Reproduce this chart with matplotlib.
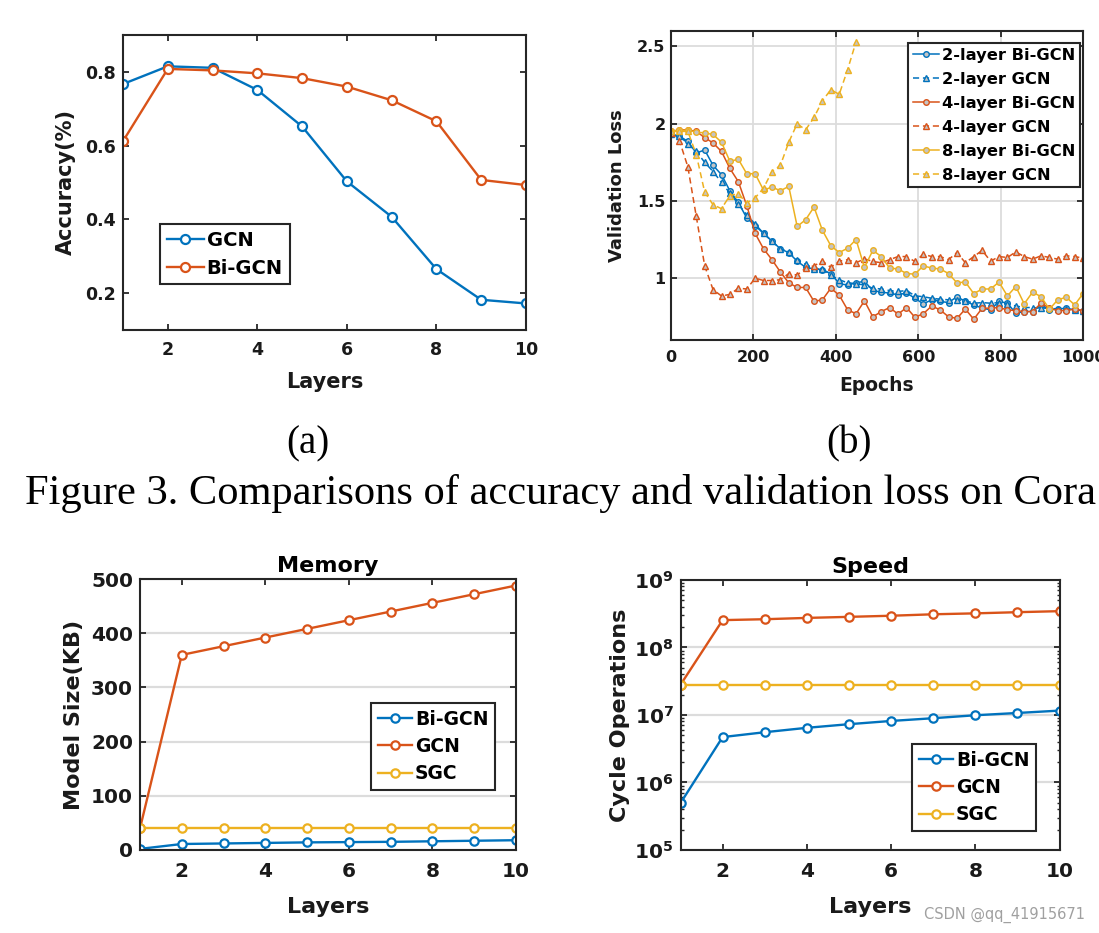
import matplotlib
matplotlib.use('Agg')
import matplotlib.pyplot as plt
import numpy as np
from matplotlib.ticker import FixedLocator, FixedFormatter, LogLocator, NullFormatter

# ---------------- data ----------------
layers = [1, 2, 3, 4, 5, 6, 7, 8, 9, 10]

acc_gcn = [0.767, 0.815, 0.811, 0.751, 0.652, 0.503, 0.407, 0.265, 0.182, 0.172]
acc_bigcn = [0.612, 0.808, 0.804, 0.796, 0.783, 0.760, 0.723, 0.666, 0.507, 0.493]

epochs = np.linspace(0, 1000, 50)
loss_2_bigcn = [1.93, 1.92, 1.885, 1.81, 1.83, 1.73, 1.67, 1.565, 1.49, 1.39,
                1.34, 1.29, 1.24, 1.19, 1.165, 1.11, 1.07, 1.06, 1.055, 1.03,
                0.965, 0.955, 0.97, 0.98, 0.92, 0.91, 0.903, 0.892, 0.905, 0.87,
                0.834, 0.86, 0.85, 0.842, 0.88, 0.85, 0.827, 0.806, 0.795, 0.85,
                0.838, 0.773, 0.784, 0.784, 0.827, 0.795, 0.80, 0.806, 0.795, 0.79]
loss_2_gcn = [1.93, 1.92, 1.87, 1.82, 1.75, 1.69, 1.62, 1.55, 1.48, 1.41,
              1.35, 1.29, 1.24, 1.19, 1.17, 1.12, 1.09, 1.06, 1.06, 1.02,
              0.99, 0.97, 0.965, 0.955, 0.935, 0.93, 0.92, 0.914, 0.92, 0.886,
              0.88, 0.87, 0.864, 0.86, 0.86, 0.855, 0.838, 0.842, 0.838, 0.842,
              0.834, 0.82, 0.81, 0.81, 0.806, 0.806, 0.80, 0.80, 0.795, 0.79]
loss_4_bigcn = [1.95, 1.96, 1.96, 1.95, 1.91, 1.875, 1.82, 1.71, 1.625, 1.47,
                1.29, 1.19, 1.12, 1.04, 0.97, 0.94, 0.94, 0.85, 0.86, 0.935,
                0.89, 0.795, 0.77, 0.853, 0.75, 0.784, 0.81, 0.767, 0.81, 0.747,
                0.77, 0.82, 0.795, 0.75, 0.74, 0.80, 0.734, 0.806, 0.806, 0.81,
                0.795, 0.79, 0.784, 0.784, 0.838, 0.806, 0.79, 0.79, 0.80, 0.79]
loss_4_gcn = [1.94, 1.89, 1.72, 1.40, 1.08, 0.925, 0.885, 0.895, 0.935, 0.93,
              1.0, 0.985, 0.985, 0.99, 1.03, 1.02, 1.065, 1.08, 1.11, 1.07,
              1.11, 1.12, 1.10, 1.125, 1.108, 1.10, 1.12, 1.14, 1.14, 1.108,
              1.155, 1.14, 1.14, 1.12, 1.166, 1.10, 1.14, 1.18, 1.11, 1.14,
              1.134, 1.17, 1.14, 1.123, 1.145, 1.134, 1.123, 1.145, 1.14, 1.13]
loss_8_bigcn = [1.95, 1.957, 1.957, 1.946, 1.94, 1.93, 1.88, 1.756, 1.77, 1.676,
                1.676, 1.57, 1.59, 1.566, 1.594, 1.335, 1.378, 1.46, 1.31, 1.21,
                1.166, 1.194, 1.25, 1.07, 1.18, 1.14, 1.065, 1.06, 1.03, 1.026,
                1.08, 1.065, 1.06, 1.03, 0.97, 0.975, 0.90, 0.93, 0.93, 0.975,
                0.885, 0.946, 0.834, 0.91, 0.88, 0.80, 0.86, 0.877, 0.827, 0.90]
loss_8_gcn = [1.95, 1.95, 1.95, 1.80, 1.557, 1.475, 1.45, 1.535, 1.546, 1.486,
              1.52, 1.583, 1.69, 1.73, 1.88, 2.0, 1.96, 2.04, 2.148, 2.22,
              2.19, 2.35, 2.53]

mem_bigcn = [2, 11, 12, 13, 14, 14.5, 15, 16, 17, 18]
mem_gcn = [40, 360, 376, 392, 408, 424, 440, 456, 472, 488]
mem_sgc = [40, 40, 40, 40, 40, 40, 40, 40, 40, 40]

speed_bigcn = [4.95e5, 4.7e6, 5.55e6, 6.45e6, 7.3e6, 8.15e6, 8.95e6, 9.9e6, 1.07e7, 1.16e7]
speed_gcn = [2.8e7, 2.54e8, 2.62e8, 2.74e8, 2.84e8, 2.95e8, 3.1e8, 3.2e8, 3.33e8, 3.45e8]
speed_sgc = [2.75e7] * 10

layer_ticks = [2, 4, 6, 8, 10]
acc_ticks = [0.2, 0.4, 0.6, 0.8]
loss_xticks = [0, 200, 400, 600, 800, 1000]
loss_yticks = [1, 1.5, 2, 2.5]
loss_ytick_labels = ['1', '1.5', '2', '2.5']
mem_ticks = [0, 100, 200, 300, 400, 500]
speed_ticks = [1e5, 1e6, 1e7, 1e8, 1e9]
speed_tick_labels = [r'$\mathbf{10^{5}}$', r'$\mathbf{10^{6}}$', r'$\mathbf{10^{7}}$',
                     r'$\mathbf{10^{8}}$', r'$\mathbf{10^{9}}$']

# ---------------- style ----------------
BLUE = '#0072BD'
ORANGE = '#D95319'
YELLOW = '#EDB120'
EDGE = '#262626'
GRID = '#dcdcdc'

plt.rcParams.update({
    'font.family': 'DejaVu Sans',
    'font.weight': 'bold',
    'axes.labelweight': 'bold',
    'axes.titleweight': 'bold',
    'axes.linewidth': 1.5,
    'axes.edgecolor': EDGE,
    'xtick.direction': 'in',
    'ytick.direction': 'in',
    'xtick.top': True,
    'ytick.right': True,
    'xtick.major.width': 1.3,
    'ytick.major.width': 1.3,
    'xtick.major.size': 4,
    'ytick.major.size': 4,
    'xtick.minor.size': 2.2,
    'ytick.minor.size': 2.2,
    'xtick.color': EDGE,
    'ytick.color': EDGE,
    'xtick.labelcolor': '#1a1a1a',
    'ytick.labelcolor': '#1a1a1a',
    'axes.labelcolor': '#1a1a1a',
})

fig = plt.figure(figsize=(10.99, 9.33), dpi=100)


def style_legend(leg):
    fr = leg.get_frame()
    fr.set_edgecolor(EDGE)
    fr.set_linewidth(1.5)


# ---------------- (a) accuracy ----------------
ax_a = fig.add_axes([0.1119, 0.6463, 0.3667, 0.3162])
ax_a.plot(layers, acc_gcn, '-o', color=BLUE, lw=1.7, ms=6.5, mfc='white', mew=1.6, label='GCN')
ax_a.plot(layers, acc_bigcn, '-o', color=ORANGE, lw=1.7, ms=6.5, mfc='white', mew=1.6, label='Bi-GCN')
ax_a.set_xlim(1, 10)
ax_a.set_ylim(0.1, 0.9)
ax_a.set_xticks(layer_ticks)
ax_a.set_yticks(acc_ticks)
ax_a.set_yticklabels([f'{v:.1f}' for v in acc_ticks])
ax_a.tick_params(axis='x', labelsize=12.5, pad=8)
ax_a.tick_params(axis='y', labelsize=12.5, pad=5)
ax_a.set_xlabel('Layers', fontsize=15, labelpad=9)
ax_a.set_ylabel('Accuracy(%)', fontsize=15, labelpad=7)
leg = ax_a.legend(loc='upper left', bbox_to_anchor=(0.1456, 0.7599), bbox_transform=fig.transFigure,
                  fontsize=14, fancybox=False, framealpha=1, borderaxespad=0, borderpad=0.35,
                  labelspacing=0.45, handlelength=1.9, handletextpad=0.15)
style_legend(leg)

# ---------------- (b) validation loss ----------------
ax_b = fig.add_axes([0.6106, 0.6356, 0.3749, 0.3312])
ax_b.set_axisbelow(True)
ax_b.grid(True, color=GRID, lw=1.3)
MFC = '#c4c4c4'
dash = (0, (4, 2.5))
ax_b.plot(epochs, loss_2_bigcn, '-', marker='o', color=BLUE, lw=1.1, ms=4, mfc=MFC, mew=1, label='2-layer Bi-GCN')
ax_b.plot(epochs, loss_2_gcn, linestyle=dash, marker='^', color=BLUE, lw=1.1, ms=4.5, mfc=MFC, mew=1, label='2-layer GCN')
ax_b.plot(epochs, loss_4_bigcn, '-', marker='o', color=ORANGE, lw=1.1, ms=4, mfc=MFC, mew=1, label='4-layer Bi-GCN')
ax_b.plot(epochs, loss_4_gcn, linestyle=dash, marker='^', color=ORANGE, lw=1.1, ms=4.5, mfc=MFC, mew=1, label='4-layer GCN')
ax_b.plot(epochs, loss_8_bigcn, '-', marker='o', color=YELLOW, lw=1.1, ms=4, mfc=MFC, mew=1, label='8-layer Bi-GCN')
ax_b.plot(epochs[:len(loss_8_gcn)], loss_8_gcn, linestyle=dash, marker='^', color=YELLOW, lw=1.1, ms=4.5, mfc=MFC, mew=1, label='8-layer GCN')
ax_b.set_xlim(0, 1000)
ax_b.set_ylim(0.6, 2.6)
ax_b.set_xticks(loss_xticks)
ax_b.set_yticks(loss_yticks)
ax_b.set_yticklabels(loss_ytick_labels)
ax_b.tick_params(axis='x', labelsize=11.5, pad=7)
ax_b.tick_params(axis='y', labelsize=11.5, pad=4)
ax_b.set_xlabel('Epochs', fontsize=13.5, labelpad=8)
ax_b.set_ylabel('Validation Loss', fontsize=13, labelpad=8)
leg = ax_b.legend(loc='upper right', bbox_to_anchor=(0.9827, 0.9539), bbox_transform=fig.transFigure,
                  fontsize=11.7, fancybox=False, framealpha=1, borderaxespad=0, borderpad=0.3,
                  labelspacing=0.55, handlelength=1.6, handletextpad=0.15)
style_legend(leg)

# ---------------- captions ----------------
fig.text(0.280, 0.524, '(a)', ha='center', va='center', family='Liberation Serif', weight='normal', fontsize=28, color='black')
fig.text(0.7725, 0.524, '(b)', ha='center', va='center', family='Liberation Serif', weight='normal', fontsize=28, color='black')
fig.text(0.0227, 0.4598, 'Figure 3. Comparisons of accuracy and validation loss on Cora', ha='left', va='baseline',
         family='Liberation Serif', weight='normal', fontsize=30.6, color='black')

# ---------------- Memory ----------------
ax_m = fig.add_axes([0.1274, 0.0890, 0.3421, 0.2904])
ax_m.set_axisbelow(True)
ax_m.yaxis.grid(True, color=GRID, lw=1.6)
ax_m.plot(layers, mem_bigcn, '-o', color=BLUE, lw=1.7, ms=6, mfc='white', mew=1.6, label='Bi-GCN')
ax_m.plot(layers, mem_gcn, '-o', color=ORANGE, lw=1.7, ms=6, mfc='white', mew=1.6, label='GCN')
ax_m.plot(layers, mem_sgc, '-o', color=YELLOW, lw=1.7, ms=6, mfc='white', mew=1.6, label='SGC')
ax_m.set_xlim(1, 10)
ax_m.set_ylim(0, 500)
ax_m.set_xticks(layer_ticks)
ax_m.set_yticks(mem_ticks)
ax_m.tick_params(axis='x', labelsize=14.5, pad=9)
ax_m.tick_params(axis='y', labelsize=14.5, pad=5)
ax_m.set_xlabel('Layers', fontsize=16, labelpad=11)
ax_m.set_ylabel('Model Size(KB)', fontsize=16, labelpad=5)
ax_m.set_title('Memory', fontsize=16, pad=5)
leg = ax_m.legend(loc='upper left', bbox_to_anchor=(0.3376, 0.2465), bbox_transform=fig.transFigure,
                  fontsize=13.5, fancybox=False, framealpha=1, borderaxespad=0, borderpad=0.35,
                  labelspacing=0.45, handlelength=1.85, handletextpad=0.15)
style_legend(leg)

# ---------------- Speed ----------------
ax_s = fig.add_axes([0.6192, 0.0890, 0.3449, 0.2894])
ax_s.set_axisbelow(True)
ax_s.set_yscale('log')
ax_s.yaxis.grid(True, which='major', color=GRID, lw=1.6)
ax_s.plot(layers, speed_bigcn, '-o', color=BLUE, lw=1.7, ms=6, mfc='white', mew=1.6, label='Bi-GCN')
ax_s.plot(layers, speed_gcn, '-o', color=ORANGE, lw=1.7, ms=6, mfc='white', mew=1.6, label='GCN')
ax_s.plot(layers, speed_sgc, '-o', color=YELLOW, lw=1.7, ms=6, mfc='white', mew=1.6, label='SGC')
ax_s.set_xlim(1, 10)
ax_s.set_ylim(1e5, 1e9)
ax_s.set_xticks(layer_ticks)
ax_s.yaxis.set_major_locator(FixedLocator(speed_ticks))
ax_s.yaxis.set_major_formatter(FixedFormatter(speed_tick_labels))
ax_s.yaxis.set_minor_locator(LogLocator(base=10, subs=np.arange(2, 10)))
ax_s.yaxis.set_minor_formatter(NullFormatter())
ax_s.tick_params(axis='x', labelsize=14.5, pad=9)
ax_s.tick_params(axis='y', labelsize=14.5, pad=5)
ax_s.tick_params(axis='y', which='minor', width=1.0)
ax_s.set_xlabel('Layers', fontsize=16, labelpad=11)
ax_s.set_ylabel('Cycle Operations', fontsize=16, labelpad=3)
ax_s.set_title('Speed', fontsize=16, pad=5)
leg = ax_s.legend(loc='upper left', bbox_to_anchor=(0.8298, 0.2026), bbox_transform=fig.transFigure,
                  fontsize=13.5, fancybox=False, framealpha=1, borderaxespad=0, borderpad=0.35,
                  labelspacing=0.45, handlelength=1.85, handletextpad=0.15)
style_legend(leg)

# watermark
fig.text(0.9873, 1 - 915 / 933, 'CSDN @qq_41915671', ha='right', va='center', family='DejaVu Sans',
         weight='normal', fontsize=10.5, color='#a0a0a0')

fig.savefig('out.png', dpi=100)
